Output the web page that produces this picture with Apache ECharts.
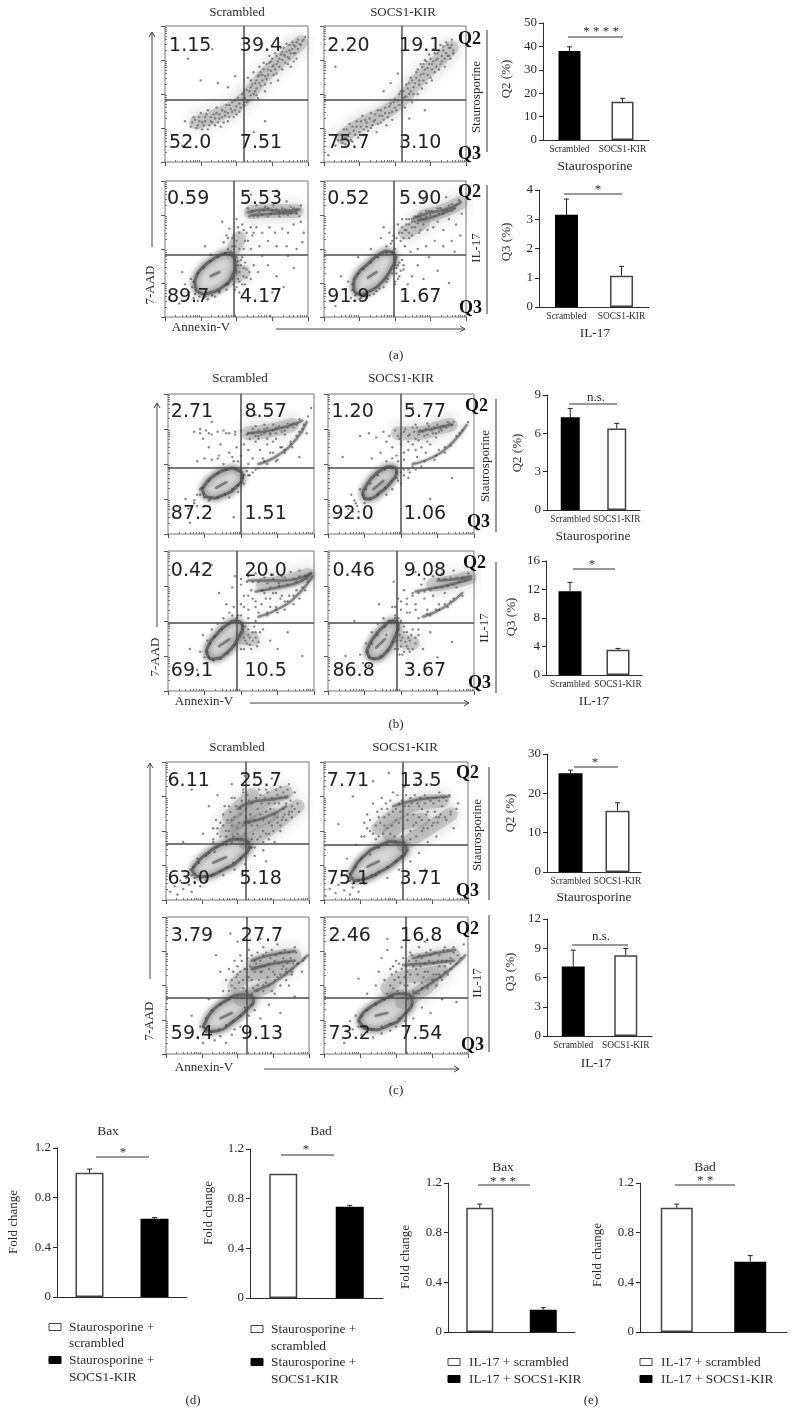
<!DOCTYPE html>
<html>
<head>
<meta charset="utf-8">
<style>html,body{margin:0;padding:0;background:#fff}#main{width:796px;height:1427px}</style>
<script src="https://cdn.jsdelivr.net/npm/echarts@6/dist/echarts.min.js"></script>
</head>
<body>
<div id="main"></div>
<script>
// Flow panels: 0-100 on both axes, 25 units = one decade.
// The dots are a thin hand-read sample of each cloud, not the original events.
const a1Pct = ['1.15','39.4','52.0','7.51'];
const a2Pct = ['2.20','19.1','75.7','3.10'];
const a3Pct = ['0.59','5.53','89.7','4.17'];
const a4Pct = ['0.52','5.90','91.9','1.67'];
const b1Pct = ['2.71','8.57','87.2','1.51'];
const b2Pct = ['1.20','5.77','92.0','1.06'];
const b3Pct = ['0.42','20.0','69.1','10.5'];
const b4Pct = ['0.46','9.08','86.8','3.67'];
const c1Pct = ['6.11','25.7','63.0','5.18'];
const c2Pct = ['7.71','13.5','75.1','3.71'];
const c3Pct = ['3.79','27.7','59.4','9.13'];
const c4Pct = ['2.46','16.8','73.2','7.54'];

const a1Dots = [[14,30],[18,26],[20,33],[22,25],[24,30],[25,36],[27,27],[28,33],[30,24],[30,38],[32,30],[34,35],[35,27],[36,40],[38,32],[39,26],[40,38],[42,34],[43,42],[44,30],[46,39],[47,44],[48,33],[50,41],[51,47],[52,37],[54,50],[55,42],[57,53],[58,45],[58,62],[60,49],[61,57],[62,66],[63,52],[64,60],[65,47],[66,70],[67,56],[68,64],[69,73],[70,52],[71,61],[72,68],[73,78],[74,58],[75,70],[76,64],[77,80],[78,72],[79,60],[80,76],[81,84],[82,68],[83,79],[84,73],[85,87],[86,77],[87,82],[88,70],[89,88],[90,80],[91,85],[92,76],[93,90],[95,86],[97,90],[37,58],[25,60],[16,76],[33,83],[49,63],[44,55],[70,30],[62,22],[12,12]];
const a1More = [[19,29],[21,31],[23,27],[24,33],[26,29],[26,24],[28,30],[29,35],[31,27],[32,33],[33,29],[35,32],[36,36],[37,29],[38,35],[40,33],[41,29],[42,37],[44,36],[45,33],[45,42],[47,37],[49,38],[49,45],[50,35],[52,43],[53,40],[54,46],[56,47],[57,44],[59,52],[60,55],[62,50],[63,58],[64,54],[65,63],[66,58],[67,66],[68,60],[69,68],[70,63],[71,72],[72,64],[73,73],[74,67],[75,76],[76,71],[77,68],[78,78],[79,74],[80,70],[81,79],[82,75],[83,84],[84,78],[85,81],[86,72],[87,86],[88,80],[89,83],[90,86],[91,80],[92,88],[93,83],[94,87],[96,89],[98,92],[78,65],[66,64],[60,60],[74,74],[82,81],[87,76],[90,74],[70,57],[64,49]];
const a1Haze = [[[22,29],[40,36],[55,46],[68,62],[80,74],[95,88]]];
const a2Dots = [[8,12],[10,20],[12,16],[14,24],[15,13],[17,19],[18,28],[20,15],[21,23],[23,30],[24,18],[26,26],[27,34],[28,20],[30,29],[31,23],[33,36],[34,27],[36,31],[37,22],[38,38],[40,29],[41,34],[43,40],[44,27],[46,36],[47,43],[48,31],[50,46],[51,38],[53,42],[54,52],[56,47],[57,40],[58,57],[60,50],[61,62],[62,44],[63,55],[65,66],[66,50],[67,60],[68,72],[69,54],[70,65],[71,75],[72,58],[73,69],[74,79],[75,62],[76,72],[77,83],[78,66],[79,75],[80,80],[81,68],[82,86],[83,74],[84,82],[85,70],[86,88],[87,78],[88,84],[89,76],[90,90],[91,82],[47,58],[42,52],[8,70],[30,90],[71,38],[3,5],[60,32],[52,65]];
const a2More = [[10,16],[12,20],[13,14],[15,18],[16,24],[18,21],[19,16],[20,26],[22,20],[23,26],[25,22],[26,30],[28,24],[29,31],[30,26],[32,32],[33,25],[35,30],[36,35],[38,28],[39,34],[40,38],[42,31],[43,36],[45,33],[46,41],[48,37],[49,44],[50,40],[52,45],[53,50],[55,44],[56,52],[57,48],[59,54],[60,58],[61,52],[62,60],[64,58],[65,62],[66,68],[67,57],[68,64],[69,70],[70,60],[71,68],[72,74],[73,64],[74,72],[75,76],[76,68],[77,74],[78,80],[79,70],[80,76],[81,82],[82,72],[83,78],[84,85],[85,76],[86,80],[87,86],[88,78],[89,84],[90,86],[91,80],[63,50],[58,48],[70,72],[76,60]];
const a2Haze = [[[13,18],[25,27],[42,36],[55,46],[66,60],[78,72],[90,84]]];
const a3Dots = [[14,24],[17,18],[18,28],[20,14],[23,12],[27,14],[30,13],[35,15],[38,18],[43,20],[44,24],[50,22],[51,28],[52,33],[53,38],[54,24],[55,30],[56,40],[57,35],[58,20],[60,28],[62,38],[65,33],[68,45],[72,38],[75,18],[78,30],[83,22],[86,45],[90,36],[96,55],[92,50],[85,52],[78,52],[72,56],[66,52],[60,50],[56,56],[52,62],[49,52],[47,58],[45,65],[44,50],[43,60],[41,55],[40,70],[50,72],[54,68],[57,62],[61,60],[64,66],[68,62],[73,66],[77,62],[82,65],[86,62],[90,68],[95,70],[97,62],[58,80],[64,82],[70,81],[76,82],[82,80],[88,81],[62,74],[68,75],[74,76],[80,74],[86,75],[92,76],[60,90],[78,93],[85,85],[95,82],[32,46],[28,52],[10,10],[12,33]];
const a3More = [[20,26],[19,22],[21,17],[24,15],[28,15],[33,16],[38,19],[43,24],[47,28],[50,32],[51,38],[50,44],[47,47],[42,47],[37,44],[32,41],[27,36],[23,32],[49,20],[50,34],[52,26],[53,42],[55,36],[54,44],[51,41],[57,29],[56,24],[52,18],[48,24],[59,33],[47,52],[48,60],[50,56],[46,48],[44,58],[51,66],[52,50],[55,50],[55,64],[58,56],[60,66],[62,62],[59,74],[65,74],[72,74],[78,79],[84,79],[90,80],[94,74],[66,77],[72,80],[80,76],[88,76],[61,78],[69,78],[75,78],[83,76],[92,79]];
const a3Haze = [[[50,30],[55,33]],[[48,50],[52,58]],[[60,77],[75,78],[92,78]]];
const a3Streak = [[[58,77],[70,79],[82,78],[94,79]],[[60,75],[75,76],[92,77]],[[32,30],[38,33]]];
const a3Contour = [[21,24],[24,18],[32,18],[40,22],[47,30],[49,40],[46,46],[40,46],[33,42],[26,36],[22,30]];
const a4Dots = [[15,20],[17,26],[19,14],[22,12],[25,13],[29,15],[32,16],[37,19],[42,22],[45,28],[50,26],[51,32],[52,38],[53,30],[55,42],[56,35],[59,24],[62,30],[66,38],[70,28],[74,44],[80,34],[88,25],[92,48],[96,60],[90,56],[84,52],[78,56],[72,52],[66,50],[61,48],[57,52],[54,56],[50,50],[48,56],[46,62],[44,52],[42,66],[40,58],[52,68],[55,72],[57,64],[60,62],[62,70],[64,66],[67,62],[70,68],[73,64],[77,66],[80,70],[84,64],[88,72],[93,68],[97,76],[58,68],[60,58],[64,74],[68,76],[72,78],[76,78],[80,80],[84,78],[88,82],[92,80],[95,86],[86,88],[70,86],[55,62],[33,50],[24,44],[12,30],[8,8]];
const a4More = [[20,24],[20,20],[22,16],[26,14],[30,15],[35,17],[39,21],[44,26],[48,32],[50,38],[51,44],[48,48],[44,47],[38,44],[33,40],[28,35],[24,32],[51,36],[53,40],[52,28],[54,34],[50,24],[56,38],[47,54],[49,60],[51,58],[53,62],[55,66],[56,58],[58,64],[60,68],[62,66],[64,70],[60,72],[66,69],[68,73],[70,72],[72,74],[75,75],[78,74],[81,76],[84,76],[87,78],[90,78],[93,82],[96,85],[66,74],[74,78],[82,80],[90,83],[62,60],[68,64],[58,72]];
const a4Haze = [[[57,62],[64,66],[70,70]],[[70,74],[84,78],[96,84]]];
const a4Streak = [[[62,72],[72,76],[85,79],[96,84]],[[66,71],[78,74],[92,80]],[[31,29],[37,33]]];
const a4Contour = [[21,23],[24,17],[32,19],[40,25],[47,35],[50,44],[46,48],[39,46],[31,39],[24,32]];
const b1Dots = [[18,73],[22,72],[26,74],[30,71],[34,73],[38,74],[42,72],[46,73],[50,74],[54,71],[58,72],[62,70],[66,75],[70,72],[74,76],[78,73],[82,79],[86,76],[90,82],[20,52],[25,54],[30,53],[35,56],[38,50],[42,58],[45,52],[47,62],[50,56],[52,64],[55,60],[58,54],[60,66],[63,60],[66,52],[68,64],[70,58],[72,66],[75,53],[77,62],[80,60],[84,66],[88,70],[92,75],[96,84],[98,90],[36,64],[28,62],[24,68],[30,80],[12,25],[14,18],[18,22],[20,28],[22,32],[25,20],[28,24],[42,26],[48,30],[52,36],[55,42],[58,44],[62,47],[68,50],[74,52],[80,58],[85,62],[15,8],[45,12],[70,20],[90,55],[60,85],[95,72]];
const b1More = [[22,28],[23,33],[25,26],[29,25],[34,26],[39,28],[44,32],[48,35],[51,40],[50,45],[46,47],[40,46],[34,43],[28,38],[24,33],[18,24],[20,20],[16,19],[50,37],[52,42],[54,45],[56,42],[60,46],[55,72],[58,75],[60,70],[62,74],[64,71],[66,72],[68,76],[70,71],[72,74],[74,72],[76,77],[78,76],[80,74],[82,76],[84,78],[86,79],[88,78],[56,68],[62,68],[68,68],[74,68],[80,71],[60,77],[66,78],[72,78],[65,54],[72,58],[78,62],[84,64],[90,73],[93,78],[55,50],[48,52],[44,55],[34,54],[40,72],[46,71],[22,75],[28,72]];
const b1Haze = [[[55,72],[70,74],[85,78]]];
const b1Streak = [[[55,72],[70,74],[85,78],[92,81]],[[62,50],[75,56],[88,68],[95,80]],[[33,33],[40,37]]];
const b1Contour = [[24,30],[29,26],[38,28],[46,33],[51,41],[47,46],[40,46],[32,42],[26,36]];
const b2Dots = [[22,70],[28,72],[33,69],[38,73],[42,70],[46,74],[49,68],[52,73],[55,70],[58,76],[60,68],[63,74],[66,70],[69,77],[72,72],[75,78],[78,74],[82,80],[85,78],[30,54],[36,58],[40,52],[44,62],[47,56],[50,64],[52,53],[55,60],[58,64],[61,55],[64,62],[67,58],[70,64],[73,53],[76,60],[80,58],[84,63],[88,70],[92,74],[96,80],[18,24],[14,18],[16,28],[20,20],[22,32],[25,22],[12,12],[40,28],[44,32],[48,38],[52,42],[56,44],[60,46],[64,48],[50,36],[55,40],[10,55],[20,85],[70,25],[85,40],[58,90]];
const b2More = [[24,28],[25,25],[29,25],[34,28],[39,33],[44,38],[47,44],[44,47],[39,46],[34,42],[29,36],[26,32],[19,22],[21,16],[17,16],[47,40],[50,44],[52,46],[55,46],[58,48],[48,70],[50,72],[53,75],[56,71],[59,73],[61,76],[62,71],[65,73],[67,75],[68,71],[71,74],[73,76],[74,72],[77,75],[79,77],[81,76],[83,79],[86,80],[55,66],[62,67],[68,66],[74,69],[60,78],[68,79],[76,73],[44,54],[48,52],[52,58],[60,60],[40,66],[66,52],[74,56],[80,62],[90,72]];
const b2Haze = [[[48,72],[62,72],[76,76],[84,78]]];
const b2Streak = [[[62,73],[75,76],[85,78]],[[58,50],[72,55],[85,65],[95,78]],[[31,32],[38,38]]];
const b2Contour = [[24,28],[28,25],[36,30],[43,37],[47,45],[43,48],[37,46],[31,41],[26,34]];
const b3Dots = [[22,28],[25,24],[27,36],[24,40],[30,44],[34,48],[38,52],[42,56],[45,60],[48,54],[50,62],[52,68],[55,58],[57,72],[60,64],[62,56],[64,72],[67,66],[70,60],[72,70],[75,56],[77,66],[80,58],[83,68],[86,62],[90,66],[94,72],[50,42],[52,30],[53,36],[55,40],[56,33],[58,42],[60,38],[62,35],[65,44],[70,36],[75,30],[82,42],[92,25],[50,80],[55,82],[60,84],[66,81],[72,83],[78,82],[84,85],[90,86],[40,62],[35,70],[44,74],[46,82],[55,52],[60,50],[68,54],[74,58],[82,64],[88,72],[95,80],[30,90],[20,15],[15,30]];
const b3More = [[27,28],[28,24],[31,22],[36,23],[41,27],[46,33],[49,40],[51,47],[47,50],[42,48],[37,44],[32,39],[29,34],[50,30],[51,44],[52,38],[53,46],[54,34],[55,44],[56,38],[57,30],[58,36],[59,46],[60,42],[61,32],[63,42],[47,52],[50,54],[44,54],[52,60],[55,68],[58,66],[60,60],[64,62],[66,70],[70,66],[74,70],[78,68],[50,76],[54,78],[58,78],[62,78],[68,77],[72,80],[76,77],[80,81],[86,80],[90,82],[94,82],[65,72],[70,74],[76,75],[82,76],[88,78],[92,79],[68,56],[74,60],[80,64],[86,68],[92,74],[96,78]];
const b3Haze = [[[51,38],[58,37]],[[65,76],[80,78],[96,83]]];
const b3Streak = [[[55,79],[65,79],[80,79],[98,84]],[[60,71],[75,74],[90,78],[98,84]],[[62,53],[78,60],[90,70],[99,82]],[[35,32],[42,37]]];
const b3Contour = [[27,26],[32,23],[41,28],[47,36],[51,46],[47,50],[40,47],[33,40],[28,33]];
const b4Dots = [[22,26],[24,20],[26,34],[30,42],[34,48],[38,52],[42,50],[44,60],[46,54],[48,66],[50,58],[52,72],[54,62],[56,56],[58,70],[60,62],[62,52],[64,76],[66,66],[68,58],[72,68],[76,62],[80,70],[84,64],[88,74],[92,68],[48,30],[50,36],[51,26],[52,42],[54,32],[55,38],[56,28],[58,44],[60,34],[62,40],[65,30],[70,42],[75,24],[85,35],[60,85],[66,80],[72,82],[78,84],[86,86],[45,78],[35,62],[92,80],[96,84],[28,18],[12,25],[18,50],[70,54],[76,58],[82,60],[50,50],[40,40]];
const b4More = [[27,28],[28,24],[31,23],[36,25],[41,29],[45,35],[47,42],[48,48],[44,50],[39,46],[34,40],[30,34],[46,30],[47,36],[48,44],[49,26],[49,40],[50,32],[51,38],[52,28],[52,46],[53,35],[54,42],[55,30],[56,36],[57,40],[58,30],[60,38],[62,44],[48,52],[46,60],[50,64],[54,66],[58,68],[62,70],[66,71],[70,72],[74,74],[78,74],[82,75],[86,76],[90,78],[94,79],[76,80],[80,80],[84,81],[88,81],[92,81],[68,55],[74,58],[80,62],[86,66],[60,58],[54,56],[46,52]];
const b4Haze = [[[50,36],[58,34]],[[72,76],[85,78],[97,81]]];
const b4Streak = [[[75,79],[88,80],[98,82]],[[60,71],[70,73],[80,75],[98,80]],[[65,53],[80,60],[92,70]],[[33,31],[39,37]]];
const b4Contour = [[27,27],[32,23],[40,28],[45,37],[48,47],[44,50],[38,46],[32,39],[28,32]];
const c1Dots = [[3,6],[6,10],[8,4],[10,14],[12,8],[14,16],[16,11],[18,6],[20,13],[24,10],[28,14],[22,30],[30,34],[33,42],[36,48],[38,56],[40,62],[42,50],[44,68],[46,58],[48,74],[50,52],[52,66],[54,78],[56,60],[58,72],[60,54],[62,84],[64,66],[66,76],[68,58],[70,80],[72,70],[74,88],[76,62],[78,76],[80,82],[82,66],[84,74],[86,84],[88,68],[90,78],[92,70],[42,40],[50,44],[60,38],[64,44],[68,36],[72,48],[76,42],[80,54],[84,58],[88,60],[93,64],[32,18],[40,18],[48,22],[55,26],[62,32],[70,28],[30,68],[26,48],[36,76],[46,84],[55,90],[18,80],[12,42]];
const c1More = [[18,18],[17,22],[20,16],[24,16],[28,17],[33,19],[38,21],[43,24],[47,27],[52,30],[56,34],[59,38],[58,42],[52,44],[46,42],[40,40],[34,35],[28,32],[23,27],[19,24],[33,44],[36,52],[38,46],[40,54],[42,46],[43,58],[44,50],[45,64],[46,54],[47,46],[48,60],[49,68],[50,48],[51,56],[52,62],[53,72],[54,54],[55,48],[56,66],[57,76],[58,56],[59,62],[60,70],[61,48],[62,58],[63,74],[64,54],[65,80],[66,62],[67,70],[68,50],[69,74],[70,64],[71,78],[72,56],[73,66],[74,74],[75,50],[76,70],[77,80],[78,60],[79,70],[80,74],[81,58],[82,78],[83,62],[84,70],[85,80],[86,64],[87,72],[88,64],[56,42],[60,44],[66,46],[70,48],[74,54],[78,56],[82,60],[86,62],[90,66],[62,38],[68,42],[72,44],[80,50],[35,58],[33,52],[41,68],[46,74],[54,80]];
const c1Haze = [[[42,50],[55,60],[70,72],[84,78]],[[55,42],[70,50],[85,62],[92,68]],[[44,60],[52,68],[60,76]],[[50,50],[62,56],[74,62]]];
const c1Streak = [[[50,66],[60,71],[75,73],[85,75]],[[55,56],[70,60],[84,68]],[[33,27],[42,31]]];
const c1Contour = [[19,20],[27,17],[40,22],[52,30],[58,40],[50,44],[40,41],[28,33],[21,26]];
const c2Dots = [[1,3],[4,8],[6,14],[8,5],[10,11],[12,18],[14,7],[16,13],[18,4],[20,9],[24,6],[28,12],[16,30],[22,40],[26,46],[28,56],[30,62],[32,50],[34,70],[36,44],[38,60],[40,74],[42,54],[44,66],[46,48],[48,78],[50,58],[52,70],[54,46],[56,82],[58,62],[60,74],[62,54],[64,84],[66,68],[68,58],[70,76],[72,64],[74,84],[76,70],[78,60],[80,78],[82,68],[85,58],[88,62],[90,52],[93,70],[36,18],[44,16],[52,22],[60,28],[66,34],[72,42],[78,46],[34,86],[45,92],[70,22],[10,55],[20,75]];
const c2More = [[18,14],[20,12],[24,14],[28,15],[33,18],[38,20],[44,24],[50,28],[54,32],[58,36],[57,40],[50,42],[44,40],[38,38],[32,33],[26,30],[22,24],[18,19],[28,46],[30,52],[32,58],[34,48],[36,54],[37,64],[38,46],[39,56],[40,66],[41,48],[42,60],[43,70],[44,52],[45,62],[46,72],[47,54],[48,64],[49,46],[50,66],[51,76],[52,56],[53,64],[54,72],[55,52],[56,68],[57,76],[58,58],[59,68],[60,50],[61,70],[62,62],[63,76],[64,56],[65,70],[66,60],[67,74],[68,66],[69,52],[70,70],[71,62],[72,74],[73,58],[74,72],[75,54],[76,74],[77,64],[78,74],[79,56],[80,72],[81,62],[83,74],[85,72],[87,76],[56,42],[60,44],[64,46],[68,50],[72,52],[76,56],[80,60],[84,60],[88,64],[92,66]];
const c2Haze = [[[38,52],[50,62],[65,70],[82,72]],[[55,40],[70,50],[88,62]],[[45,48],[56,56],[68,58]]];
const c2Streak = [[[48,68],[62,72],[76,74],[87,75]],[[30,24],[38,28]]];
const c2Contour = [[19,16],[27,15],[38,20],[50,28],[57,37],[50,42],[38,39],[27,31],[21,23]];
const c3Dots = [[22,12],[26,8],[30,14],[34,10],[38,13],[42,8],[46,14],[24,20],[48,18],[52,20],[58,28],[62,32],[66,26],[72,36],[80,30],[90,42],[40,46],[42,54],[44,62],[46,50],[48,68],[50,58],[52,72],[54,48],[56,62],[58,76],[60,54],[62,68],[64,50],[66,60],[68,78],[70,52],[72,62],[74,46],[76,58],[78,80],[80,50],[82,64],[84,54],[86,74],[88,58],[90,78],[92,66],[95,60],[97,70],[38,60],[35,72],[50,82],[66,84],[60,44],[68,46],[76,44],[86,50],[30,40],[18,28],[55,34],[45,88]];
const c3More = [[26,20],[28,16],[32,16],[37,18],[42,21],[47,24],[52,28],[56,32],[60,36],[62,41],[57,44],[50,43],[44,40],[38,36],[32,32],[28,26],[44,46],[46,54],[47,60],[48,48],[49,56],[50,64],[51,52],[52,60],[53,68],[54,54],[55,62],[56,46],[57,70],[58,56],[59,64],[60,72],[61,48],[62,60],[63,66],[64,74],[65,54],[66,68],[67,60],[68,72],[69,64],[70,74],[71,56],[72,66],[73,70],[74,76],[75,60],[76,68],[77,72],[78,56],[79,66],[80,74],[81,62],[82,70],[83,76],[84,60],[85,66],[87,70],[89,66],[91,74],[60,42],[64,46],[68,50],[72,50],[76,54],[80,58],[84,62],[88,60],[92,66],[96,68]];
const c3Haze = [[[48,50],[58,58],[72,60],[85,62]],[[52,40],[60,44],[72,50]],[[62,66],[75,70],[90,72]]];
const c3Streak = [[[60,68],[72,72],[90,75]],[[60,62],[75,66],[90,68]],[[62,46],[75,52],[88,62],[99,72]],[[38,26],[46,30]]];
const c3Contour = [[27,19],[36,17],[46,23],[56,32],[61,40],[52,43],[42,39],[33,32],[28,24]];
const c4Dots = [[18,24],[20,18],[22,28],[26,14],[30,16],[34,12],[40,15],[46,17],[50,20],[56,24],[62,26],[68,34],[74,30],[82,40],[92,38],[36,50],[38,60],[40,70],[42,54],[44,76],[46,62],[48,48],[50,68],[52,56],[54,78],[56,50],[58,60],[60,74],[62,46],[64,62],[66,78],[68,52],[70,60],[72,48],[74,76],[76,58],[78,50],[80,64],[82,54],[84,78],[86,58],[88,66],[90,78],[93,72],[97,80],[46,42],[58,40],[66,44],[44,84],[70,82],[30,44],[14,8],[24,55]];
const c4More = [[24,24],[24,20],[28,19],[33,18],[40,20],[46,22],[52,26],[57,30],[61,36],[62,42],[56,44],[48,42],[42,40],[36,36],[30,32],[26,28],[44,44],[46,50],[47,58],[48,64],[49,54],[50,60],[51,46],[52,66],[53,52],[54,62],[55,70],[56,56],[57,64],[58,50],[59,68],[60,58],[61,72],[62,64],[63,52],[64,68],[65,58],[66,72],[67,64],[68,70],[69,56],[70,66],[71,74],[72,60],[73,68],[74,72],[75,54],[76,66],[77,74],[78,58],[79,68],[80,72],[81,56],[82,68],[83,76],[84,64],[85,68],[86,76],[88,70],[90,74],[60,42],[64,44],[68,48],[72,50],[76,54],[80,58],[84,60],[88,62],[92,66],[95,70]];
const c4Haze = [[[44,48],[55,56],[70,58],[82,60]],[[54,38],[62,42],[75,52]],[[62,68],[75,70],[90,72]]];
const c4Streak = [[[62,70],[75,73],[91,76]],[[55,65],[70,66],[90,68]],[[62,44],[72,50],[88,62],[98,72]],[[36,28],[44,30]]];
const c4Contour = [[25,23],[32,18],[45,21],[55,28],[61,40],[52,44],[42,40],[32,34],[26,28]];

// Bar panels
const groupCats = ['Scrambled','SOCS1-KIR'];
const plainCats = ['scrambled','SOCS1-KIR'];
const aStauroVals = [38,16.3],  aStauroErr = [39.8,17.8];
const aIl17Vals   = [3.15,1.07], aIl17Err  = [3.69,1.39];
const bStauroVals = [7.25,6.38], bStauroErr = [7.95,6.78];
const bIl17Vals   = [11.75,3.55], bIl17Err = [13,3.73];
const cStauroVals = [25.1,15.6], cStauroErr = [25.9,17.6];
const cIl17Vals   = [7.13,8.28], cIl17Err  = [8.8,8.97];
const dBaxVals = [1,0.63],    dBaxErr = [1.03,0.64];
const dBadVals = [1,0.735],   dBadErr = [1,0.746];
const eBaxVals = [1,0.18],    eBaxErr = [1.03,0.196];
const eBadVals = [1,0.566],   eBadErr = [1.03,0.615];
const foldTicks = 0.4;

const serif = '"Liberation Serif", serif';
const ink = '#2b2b2b';

const panels = [
  {rect:[165,26,143,136],  q:[55,46],   lx:[2.5,52],  ly:[85,14], pct:a1Pct, dots:[a1Dots,a1More], haze:a1Haze},
  {rect:[324,26,142,136],  q:[55,46],   lx:[2,52.5],  ly:[85,14], pct:a2Pct, dots:[a2Dots,a2More], haze:a2Haze},
  {rect:[165,181,143,136], q:[48,46],   lx:[1,52],    ly:[87,15], pct:a3Pct, dots:[a3Dots,a3More], haze:a3Haze, streak:a3Streak, contour:a3Contour},
  {rect:[324,181,142,136], q:[49,46],   lx:[2,52.5],  ly:[87,15], pct:a4Pct, dots:[a4Dots,a4More], haze:a4Haze, streak:a4Streak, contour:a4Contour},
  {rect:[168,394,146,140], q:[50,47],   lx:[1.6,52],  ly:[87,14.5], pct:b1Pct, dots:[b1Dots,b1More], haze:b1Haze, streak:b1Streak, contour:b1Contour},
  {rect:[328,394,146,140], q:[49.5,47], lx:[2,51.6],  ly:[87,14.5], pct:b2Pct, dots:[b2Dots,b2More], haze:b2Haze, streak:b2Streak, contour:b2Contour},
  {rect:[168,551,146,140], q:[47,48.5], lx:[1.6,52],  ly:[86,14], pct:b3Pct, dots:[b3Dots,b3More], haze:b3Haze, streak:b3Streak, contour:b3Contour},
  {rect:[328,551,146,140], q:[47,48.5], lx:[2.7,51.6],ly:[86,14], pct:b4Pct, dots:[b4Dots,b4More], haze:b4Haze, streak:b4Streak, contour:b4Contour},
  {rect:[166,762,143,138], q:[55.5,40.5],lx:[.7,51],  ly:[86,15], pct:c1Pct, dots:[c1Dots,c1More], haze:c1Haze, streak:c1Streak, contour:c1Contour},
  {rect:[324,762,144,138], q:[54.6,40], lx:[1.6,52],  ly:[86,15], pct:c2Pct, dots:[c2Dots,c2More], haze:c2Haze, streak:c2Streak, contour:c2Contour},
  {rect:[166,917,143,137], q:[56.5,41], lx:[3,52],    ly:[86,14.5], pct:c3Pct, dots:[c3Dots,c3More], haze:c3Haze, streak:c3Streak, contour:c3Contour},
  {rect:[324,917,144,137], q:[56.7,41], lx:[2.8,52.5],ly:[86,14.5], pct:c4Pct, dots:[c4Dots,c4More], haze:c4Haze, streak:c4Streak, contour:c4Contour}
];

const blackFirst = ['#000','#fff'], whiteFirst = ['#fff','#000'];
const bars = [
  {rect:[543,23,106,117],  max:50, step:10, vals:aStauroVals, errs:aStauroErr, fills:blackFirst, w:22, cats:true},
  {rect:[539,190,110,117], max:4,  step:1,  vals:aIl17Vals,   errs:aIl17Err,   fills:blackFirst, w:23, cats:true},
  {rect:[547,395,93,115],  max:9,  step:3,  vals:bStauroVals, errs:bStauroErr, fills:blackFirst, w:19, cats:true},
  {rect:[546,561,96,114],  max:16, step:4,  vals:bIl17Vals,   errs:bIl17Err,   fills:blackFirst, w:23, cats:true},
  {rect:[547,754,94,118],  max:30, step:10, vals:cStauroVals, errs:cStauroErr, fills:blackFirst, w:24, cats:true},
  {rect:[547,919,105,117], max:12, step:3,  vals:cIl17Vals,   errs:cIl17Err,   fills:blackFirst, w:23, cats:true},
  {rect:[57,1148,130,149], max:1.2,step:foldTicks, vals:dBaxVals, errs:dBaxErr, fills:whiteFirst, w:28},
  {rect:[250,1149,133,149],max:1.2,step:foldTicks, vals:dBadVals, errs:dBadErr, fills:whiteFirst, w:28},
  {rect:[448,1183,127,149],max:1.2,step:foldTicks, vals:eBaxVals, errs:eBaxErr, fills:whiteFirst, w:27},
  {rect:[640,1183,147,149],max:1.2,step:foldTicks, vals:eBadVals, errs:eBadErr, fills:whiteFirst, w:32}
];

const decadeSteps = [7.5,11.9,15,17.5,19.5,21.1,22.6,23.9];
const minorTicks = [];
[0,25,50,75].forEach(d => decadeSteps.forEach(s => minorTicks.push(d + s)));

const grid = [], xAxis = [], yAxis = [], series = [];

function addFlowAxes(index) {
  xAxis.push({gridIndex:index,type:'value',min:0,max:100,interval:25,axisLine:{show:false},splitLine:{show:false},
    axisLabel:{show:false},axisTick:{length:4,lineStyle:{color:'#555'}}});
  xAxis.push({gridIndex:index,type:'value',min:0,max:100,axisLine:{show:false},splitLine:{show:false},
    axisLabel:{show:false},axisTick:{length:2,customValues:minorTicks,lineStyle:{color:'#777'}}});
  yAxis.push({gridIndex:index,type:'value',min:0,max:100,interval:25,axisLine:{show:false},splitLine:{show:false},
    axisLabel:{show:false},axisTick:{length:4,lineStyle:{color:'#555'}}});
  yAxis.push({gridIndex:index,type:'value',min:0,max:100,axisLine:{show:false},splitLine:{show:false},
    axisLabel:{show:false},axisTick:{length:2,customValues:minorTicks,lineStyle:{color:'#777'}}});
}

panels.forEach(p => {
  const gi = grid.length, ax = xAxis.length;
  grid.push({left:p.rect[0],top:p.rect[1],width:p.rect[2],height:p.rect[3],show:true,backgroundColor:'#fff',
    borderColor:'#777',borderWidth:1,outerBoundsMode:'none'});
  addFlowAxes(gi);
  const on = {xAxisIndex:ax,yAxisIndex:ax};
  // the second axis pair only carries the minor ticks
  series.push({type:'scatter',xAxisIndex:ax+1,yAxisIndex:ax+1,data:[],silent:true});
  (p.haze || []).forEach(line => series.push({...on,type:'line',data:line,smooth:true,symbol:'none',silent:true,
    lineStyle:{color:'#777',width:14,opacity:0.3,cap:'round',join:'round',shadowBlur:14,shadowColor:'#666'}}));
  if (p.contour) series.push({...on,type:'custom',data:p.contour,silent:true,
    renderItem:(params,api) => params.dataIndex ? null : {type:'polygon',
      shape:{points:p.contour.map(pt => api.coord(pt)),smooth:0.6},
      style:{fill:'#d8d8d8',stroke:'#666',lineWidth:3,shadowBlur:6,shadowColor:'#555'}}});
  (p.streak || []).forEach(line => series.push({...on,type:'line',data:line,smooth:true,symbol:'none',silent:true,
    lineStyle:{color:'#444',width:2.5,opacity:0.5,cap:'round',shadowBlur:3,shadowColor:'#555'}}));
  p.dots.forEach(d => series.push({...on,type:'scatter',data:d,symbolSize:2.4,silent:true,itemStyle:{color:'#3a3a3a',opacity:0.6}}));
  // quadrant gates, drawn over the dots
  series.push({...on,type:'scatter',data:[],silent:true,
    markLine:{silent:true,symbol:'none',label:{show:false},animation:false,lineStyle:{color:'#4d4d4d',width:1.5,type:'solid'},
      data:[{xAxis:p.q[0]},{yAxis:p.q[1]}]}});
  const labelData = [[p.lx[0],p.ly[0],p.pct[0]],[p.lx[1],p.ly[0],p.pct[1]],[p.lx[0],p.ly[1],p.pct[2]],[p.lx[1],p.ly[1],p.pct[3]]];
  series.push({...on,type:'scatter',data:labelData,symbolSize:1,silent:true,z:5,itemStyle:{color:'transparent'},
    label:{show:true,position:'right',distance:0,formatter:d => d.data[2],opacity:1,
      fontFamily:'"DejaVu Sans", sans-serif',fontSize:19,color:'#222'}});
});

bars.forEach(b => {
  const gi = grid.length, ax = xAxis.length;
  grid.push({left:b.rect[0],top:b.rect[1],width:b.rect[2],height:b.rect[3],outerBoundsMode:'none'});
  xAxis.push({gridIndex:gi,type:'category',data:b.cats ? groupCats : plainCats,
    axisLine:{lineStyle:{color:ink,width:1}},axisTick:{show:false},
    axisLabel:{show:!!b.cats,interval:0,hideOverlap:false,margin:5,fontFamily:serif,fontSize:9.4,color:ink}});
  yAxis.push({gridIndex:gi,type:'value',min:0,max:b.max,interval:b.step,splitLine:{show:false},
    axisLine:{show:true,lineStyle:{color:ink,width:1}},axisTick:{show:true,length:4,lineStyle:{color:ink}},
    axisLabel:{margin:6,fontFamily:serif,fontSize:13,color:ink,formatter:v => b.max === 1.2 ? (v === 0 ? '0' : v.toFixed(1)) : String(v)}});
  series.push({xAxisIndex:ax,yAxisIndex:ax,type:'bar',barWidth:b.w,silent:true,
    data:b.vals.map((v,i) => ({value:v,itemStyle:{color:b.fills[i],borderColor:b.fills[i] === '#fff' ? '#444' : '#000',borderWidth:1.5}}))});
  series.push({xAxisIndex:ax,yAxisIndex:ax,type:'custom',silent:true,z:1,
    data:b.errs.map((e,i) => [i,e,b.vals[i]]),encode:{x:0,y:1},
    renderItem:(params,api) => {
      const top = api.coord([api.value(0),api.value(1)]);
      const base = api.coord([api.value(0),api.value(2)]);
      if (Math.abs(top[1] - base[1]) < 0.5) return null;
      const s = {stroke:'#222',lineWidth:1};
      return {type:'group',children:[
        {type:'line',shape:{x1:top[0],y1:top[1],x2:top[0],y2:base[1]},style:s},
        {type:'line',shape:{x1:top[0]-2.5,y1:top[1],x2:top[0]+2.5,y2:top[1]},style:s}
      ]};
    }});
});

// Everything that is not a mark: titles, arrows, brackets, legends
const graphic = [];
function txt(x, y, text, size, opt) {
  opt = opt || {};
  graphic.push({type:'text',x:x,y:y,rotation:opt.rot ? Math.PI / 2 : 0,silent:true,z:10,
    style:{text:text,fill:opt.fill || ink,font:(opt.bold ? 'bold ' : '') + size + 'px ' + serif,
      textAlign:opt.align || 'center',textVerticalAlign:'middle'}});
}
function seg(x1, y1, x2, y2, color, width) {
  graphic.push({type:'line',silent:true,z:10,shape:{x1:x1,y1:y1,x2:x2,y2:y2},style:{stroke:color || ink,lineWidth:width || 1}});
}
function upArrow(x, y1, y2) { seg(x,y1,x,y2,'#444'); seg(x-3,y2+5,x,y2,'#444'); seg(x+3,y2+5,x,y2,'#444'); }
function rightArrow(x1, x2, y) { seg(x1,y,x2,y,'#444'); seg(x2-5,y-3,x2,y,'#444'); seg(x2-5,y+3,x2,y,'#444'); }

[
  {sx:237,kx:403,ty:13,q:[[458,39,'Q2'],[458,154,'Q3'],[458,192,'Q2'],[459,308,'Q3']],vx:487,v:[[30,152],[185,314]],
   sy:[477,97],iy:[477,248],arrow:[152,247,32,276,465,329],aad:[151,285],ann:[201,328],tag:['(a)',356]},
  {sx:240,kx:401,ty:379,q:[[465,406,'Q2'],[467,522,'Q3'],[463,563,'Q2'],[468,683,'Q3']],vx:496,v:[[399,532],[562,693]],
   sy:[486,466],iy:[485,628],arrow:[157,627,403,250,469,703],aad:[156,657],ann:[204,702],tag:['(b)',725]},
  {sx:237,kx:405,ty:748,q:[[456,773,'Q2'],[456,891,'Q3'],[456,929,'Q2'],[461,1045,'Q3']],vx:489,v:[[767,900],[915,1052]],
   sy:[478,835],iy:[478,983],arrow:[150,979,763,264,459,1069],aad:[150,1021],ann:[204,1068],tag:['(c)',1091]}
].forEach(f => {
  txt(f.sx,f.ty,'Scrambled',13);
  txt(f.kx,f.ty,'SOCS1-KIR',13);
  f.q.forEach(q => txt(q[0],q[1],q[2],18,{bold:true,align:'left',fill:'#111'}));
  f.v.forEach(r => seg(f.vx,r[0],f.vx,r[1],'#777',1.5));
  txt(f.sy[0],f.sy[1],'Staurosporine',13,{rot:true});
  txt(f.iy[0],f.iy[1],'IL-17',13,{rot:true});
  upArrow(f.arrow[0],f.arrow[1],f.arrow[2]);
  rightArrow(f.arrow[3],f.arrow[4],f.arrow[5]);
  txt(f.aad[0],f.aad[1],'7-AAD',13,{rot:true});
  txt(f.ann[0],f.ann[1],'Annexin-V',13);
  txt(396,f.tag[1],f.tag[0],13);
});
txt(193,1401,'(d)',13);
txt(591,1401,'(e)',13);

// bracket x1,x2,y then mark text and its position, y title, group title
[
  [568,623,37,'* * * *',601,32,'Q2 (%)',507,79,'Staurosporine',595,166],
  [564,622,194,'*',598,190,'Q3 (%)',507,242,'IL-17',595,333],
  [569,617,404,'n.s.',596,398,'Q2 (%)',518,453,'Staurosporine',593,536],
  [573,615,569,'*',592,565,'Q3 (%)',512,617,'IL-17',594,701],
  [574,618,767,'*',595,763,'Q2 (%)',511,813,'Staurosporine',594,897],
  [572,628,945,'n.s.',601,937,'Q3 (%)',511,972,'IL-17',596,1063],
  [96,149,1157,'*',123,1153,'Fold change',14,1222,'Bax',108,1131],
  [281,334,1155,'*',306,1150,'Fold change',209,1213,'Bad',321,1131],
  [478,530,1185,'* * *',503,1182,'Fold change',406,1257,'Bax',503,1167],
  [675,735,1185,'* *',705,1181,'Fold change',598,1255,'Bad',705,1167]
].forEach(s => {
  seg(s[0],s[2],s[1],s[2],'#333');
  txt(s[4],s[5],s[3],13);
  txt(s[7],s[8],s[6],13,{rot:true});
  txt(s[10],s[11],s[9],13.5);
});

function swatch(x, y, w, fill) {
  graphic.push({type:'rect',silent:true,z:10,shape:{x:x,y:y-3.5,width:w,height:7},style:{fill:fill,stroke:fill === '#000' ? '#000' : '#444',lineWidth:1}});
}
[
  [49,69,1327,1343,1360,1377],
  [251,271,1329,1346,1362,1379]
].forEach(l => {
  swatch(l[0],l[2],12,'#fff');
  txt(l[1],l[2],'Staurosporine +',13.4,{align:'left'});
  txt(l[1],l[3],'scrambled',13.4,{align:'left'});
  swatch(l[0],l[4],12,'#000');
  txt(l[1],l[4],'Staurosporine +',13.4,{align:'left'});
  txt(l[1],l[5],'SOCS1-KIR',13.4,{align:'left'});
});
[[448,469],[640,661]].forEach(l => {
  swatch(l[0],1362,12,'#fff');
  txt(l[1],1362,'IL-17 + scrambled',13.4,{align:'left'});
  swatch(l[0],1379,12,'#000');
  txt(l[1],1379,'IL-17 + SOCS1-KIR',13.4,{align:'left'});
});

const chart = echarts.init(document.getElementById('main'));
chart.setOption({animation:false,backgroundColor:'#fff',grid:grid,xAxis:xAxis,yAxis:yAxis,series:series,graphic:graphic});
</script>
</body>
</html>
